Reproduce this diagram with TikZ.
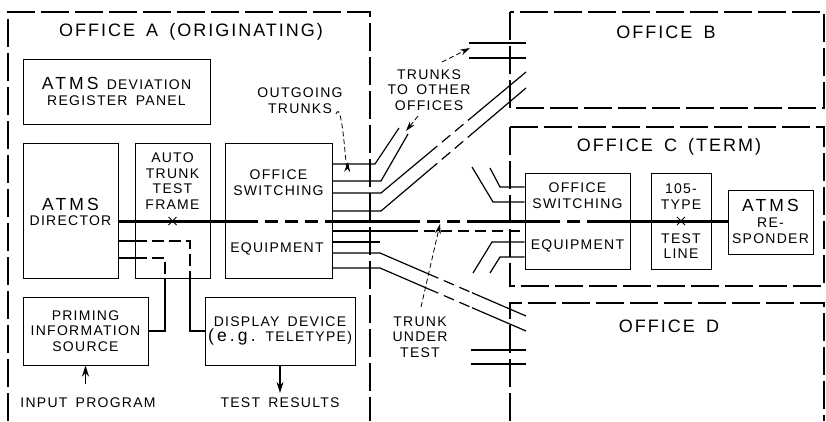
\documentclass[tikz,border=0pt]{standalone}
\usepackage{fontspec}
\setmainfont{Liberation Sans}[LetterSpace=9, WordSpace=1.6]
\usetikzlibrary{arrows.meta,calc,shapes.misc}
\newcommand\lbl{\fontsize{14}{15.7}\selectfont}
\newcommand\ttl{\fontsize{18}{20}\selectfont\addfontfeature{LetterSpace=11}}
\newcommand\bigatms{\fontsize{17.5}{18}\selectfont\addfontfeature{LetterSpace=18}}
\tikzset{
  office/.style   = {draw, line width=1.1pt, dash pattern=on 28pt off 6pt},
  unit/.style     = {rectangle, draw, line width=1pt, inner sep=0pt, align=center, font=\lbl},
  et/.style       = {inner sep=0pt, align=center, font=\lbl},
  head/.style     = {inner sep=0pt, font=\ttl},
  xmark/.style    = {cross out, draw, line width=1pt, minimum size=7pt, inner sep=0pt},
  trunk/.style    = {line width=1.2pt},
  brk/.style      = {line width=1.2pt, dash pattern=on 11pt off 6pt},
  testpath/.style = {line width=3pt},
  testbrk/.style  = {line width=3pt, dash pattern=on 13pt off 7pt},
  ctl/.style      = {line width=1.2pt, dash pattern=on 12pt off 5pt},
  note/.style     = {line width=0.8pt, dash pattern=on 5pt off 3pt, -{Stealth[length=10pt,width=6pt]}},
  feed/.style     = {line width=1.4pt, -{Stealth[length=11pt,width=7pt]}}
}

\begin{document}
\begin{tikzpicture}[x=1pt,y=-1pt]
  \useasboundingbox (0,0) rectangle (826,421);
  % offices
  \draw[office] (8,421) -- (8,12) -- (370,12) -- (370,421);
  \draw[office] (510,12) rectangle (824,108);
  \draw[office] (510,127) rectangle (824,286);
  \draw[office] (510,421) -- (510,303) -- (824,303) -- (824,421);
  \node[head] (tA) at (191,32) {OFFICE A (ORIGINATING)};
  \node[head] (tB) at (666,32) {OFFICE B};
  \node[head] (tC) at (669,147) {OFFICE C (TERM)};
  \node[head] (tD) at (669,326) {OFFICE D};

  % office A units
  \node[unit, minimum width=187pt, minimum height=65pt] (dev) at (116.5,91.5) {{\bigatms ATMS} DEVIATION\\REGISTER PANEL};
  \node[unit, minimum width=95pt, minimum height=135pt] (dir) at (70.5,210.5) {};
  \node[unit, minimum width=75pt, minimum height=135pt] (atf) at (172.5,210.5) {};
  \node[unit, minimum width=107pt, minimum height=135pt] (ose) at (278.5,210.5) {};
  \node[unit, minimum width=125pt, minimum height=68pt] (pri) at (85.5,331) {PRIMING\\INFORMATION\\SOURCE};
  \node[unit, minimum width=150pt, minimum height=68pt] (disp) at (280,331) {DISPLAY DEVICE\\{\bigatms(e.g.} TELETYPE)};
  \node[et] (dirt) at (70.5,212) {{\bigatms ATMS}\\DIRECTOR};
  \node[et] (atft) at (172.5,181) {AUTO\\TRUNK\\TEST\\FRAME};
  \node[et] (oset) at (278.5,183) {OFFICE\\SWITCHING};
  \node[et] (oseq) at (277,249) {EQUIPMENT};

  % office C units
  \node[unit, minimum width=105pt, minimum height=96pt] (osc) at (577.5,221) {};
  \node[unit, minimum width=60pt, minimum height=96pt] (tl) at (681,221) {};
  \node[unit, minimum width=85pt, minimum height=64pt] (resp) at (770.5,222) {};
  \node[et] (osct) at (577.5,195.5) {OFFICE\\SWITCHING};
  \node[et] (oscq) at (577.5,246) {EQUIPMENT};
  \node[et] (tlt) at (681,196.5) {105-\\TYPE};
  \node[et] (tlb) at (681,246) {TEST\\LINE};
  \node[et] (rspa) at (770.5,205) {\bigatms ATMS};
  \node[et] (rspb) at (770.5,230.5) {RE-\\SPONDER};

  % test connection
  \coordinate (p1) at (245,221); \coordinate (p2) at (332,221); \coordinate (p3) at (407,221);
  \coordinate (p4) at (467,221); \coordinate (p5) at (547,221); \coordinate (p6) at (598,221);
  \draw[testpath] (dir.east |- p1) -- (p1);
  \draw[testbrk] (p1) -- (p2);
  \draw[testpath] (p2) -- (p3);
  \draw[testbrk] (p3) -- (p4);
  \draw[testpath] (p4) -- (p5);
  \draw[testbrk] (p5) -- (p6);
  \draw[testpath] (p6) -- (resp.west |- p1);
  \node[xmark] (x1) at (atf.center |- p1) {};
  \node[xmark] (x2) at (tl.center |- p1) {};
  \coordinate (u1) at (407,231);
  \draw[trunk] (ose.east |- u1) -- (u1);
  \draw[brk] (u1) -- (osc.west |- u1);

  % outgoing trunks
  \coordinate (a1) at (375,164); \coordinate (b1) at (399,128);
  \draw[trunk] (ose.east |- a1) -- (a1) -- (b1);
  \coordinate (a2) at (381,181); \coordinate (b2) at (408,134);
  \draw[trunk] (ose.east |- a2) -- (a2) -- (b2);
  \coordinate (a3) at (381,193); \coordinate (b3) at (526,72);
  \draw[trunk] (ose.east |- a3) -- (a3) -- ($(a3)!.33!(b3)$);
  \draw[brk] ($(a3)!.33!(b3)$) -- ($(a3)!.63!(b3)$);
  \draw[trunk] ($(a3)!.63!(b3)$) -- (b3);
  \coordinate (a4) at (381,211); \coordinate (b4) at (526,88);
  \draw[trunk] (ose.east |- a4) -- (a4) -- ($(a4)!.33!(b4)$);
  \draw[brk] ($(a4)!.33!(b4)$) -- ($(a4)!.63!(b4)$);
  \draw[trunk] ($(a4)!.63!(b4)$) -- (b4);
  \coordinate (a6) at (380,242);
  \draw[trunk] (ose.east |- a6) -- (a6);
  \coordinate (a7) at (380,253); \coordinate (b7) at (526,316);
  \draw[trunk] (ose.east |- a7) -- (a7) -- ($(a7)!.33!(b7)$);
  \draw[brk] ($(a7)!.33!(b7)$) -- ($(a7)!.63!(b7)$);
  \draw[trunk] ($(a7)!.63!(b7)$) -- (b7);
  \coordinate (a8) at (380,268); \coordinate (b8) at (526,331);
  \draw[trunk] (ose.east |- a8) -- (a8) -- ($(a8)!.33!(b8)$);
  \draw[brk] ($(a8)!.33!(b8)$) -- ($(a8)!.63!(b8)$);
  \draw[trunk] ($(a8)!.63!(b8)$) -- (b8);

  % trunk stubs at offices B, C, D
  \coordinate (sb1) at (469,43); \coordinate (eb1) at (526,43); \draw[trunk] (sb1) -- (eb1);
  \coordinate (sb2) at (469,58); \coordinate (eb2) at (526,58); \draw[trunk] (sb2) -- (eb2);
  \coordinate (sd1) at (471,350); \coordinate (ed1) at (526,350); \draw[trunk] (sd1) -- (ed1);
  \coordinate (sd2) at (471,364); \coordinate (ed2) at (526,364); \draw[trunk] (sd2) -- (ed2);
  \coordinate (sc1) at (490,168); \coordinate (kc1) at (500,187); \draw[trunk] (sc1) -- (kc1) -- (osc.west |- kc1);
  \coordinate (sc2) at (472,167); \coordinate (kc2) at (493,202); \draw[trunk] (sc2) -- (kc2) -- (osc.west |- kc2);
  \coordinate (sc3) at (473,273); \coordinate (kc3) at (492,242); \draw[trunk] (sc3) -- (kc3) -- (osc.west |- kc3);
  \coordinate (sc4) at (490,273); \coordinate (kc4) at (500,257); \draw[trunk] (sc4) -- (kc4) -- (osc.west |- kc4);

  % control leads
  \coordinate (k1) at (190,241); \coordinate (k2) at (165,258);
  \draw[trunk] (dir.east |- k1) -- (atf.west |- k1);
  \draw[ctl] (atf.west |- k1) -- (k1) -- (k1 |- atf.south);
  \draw[trunk] (k1 |- atf.south) |- (disp.west);
  \draw[trunk] (dir.east |- k2) -- (atf.west |- k2);
  \draw[ctl] (atf.west |- k2) -- (k2) -- (k2 |- atf.south);
  \draw[trunk] (k2 |- atf.south) |- (pri.east);

  % inputs and outputs
  \node[et] (inp) at (88,403) {INPUT PROGRAM};
  \node[et] (res) at (280,403) {TEST RESULTS};
  \draw[feed, shorten <=14pt] (pri.south |- inp.north) -- (pri.south);
  \draw[feed, shorten >=5pt] (disp.south) -- (disp.south |- res.north);

  % notes
  \node[et] (og) at (300,101) {OUTGOING\\TRUNKS};
  \coordinate (og1) at (336,114); \coordinate (og2) at (348,162);
  \draw[note] (og1) to[out=70,in=-95] (og2);
  \node[et] (tto) at (429,90) {TRUNKS\\TO OTHER\\OFFICES};
  \coordinate (to1) at (442,62); \coordinate (to2) at (470,48);
  \draw[note] (to1) -- (to2);
  \coordinate (to3) at (418,116); \coordinate (to4) at (406,131);
  \draw[note] (to3) -- (to4);
  \node[et] (tut) at (420,337) {TRUNK\\UNDER\\TEST};
  \coordinate (tu1) at (421,307); \coordinate (tu2) at (440,224);
  \draw[note] (tu1) -- (tu2);
\end{tikzpicture}
\end{document}
